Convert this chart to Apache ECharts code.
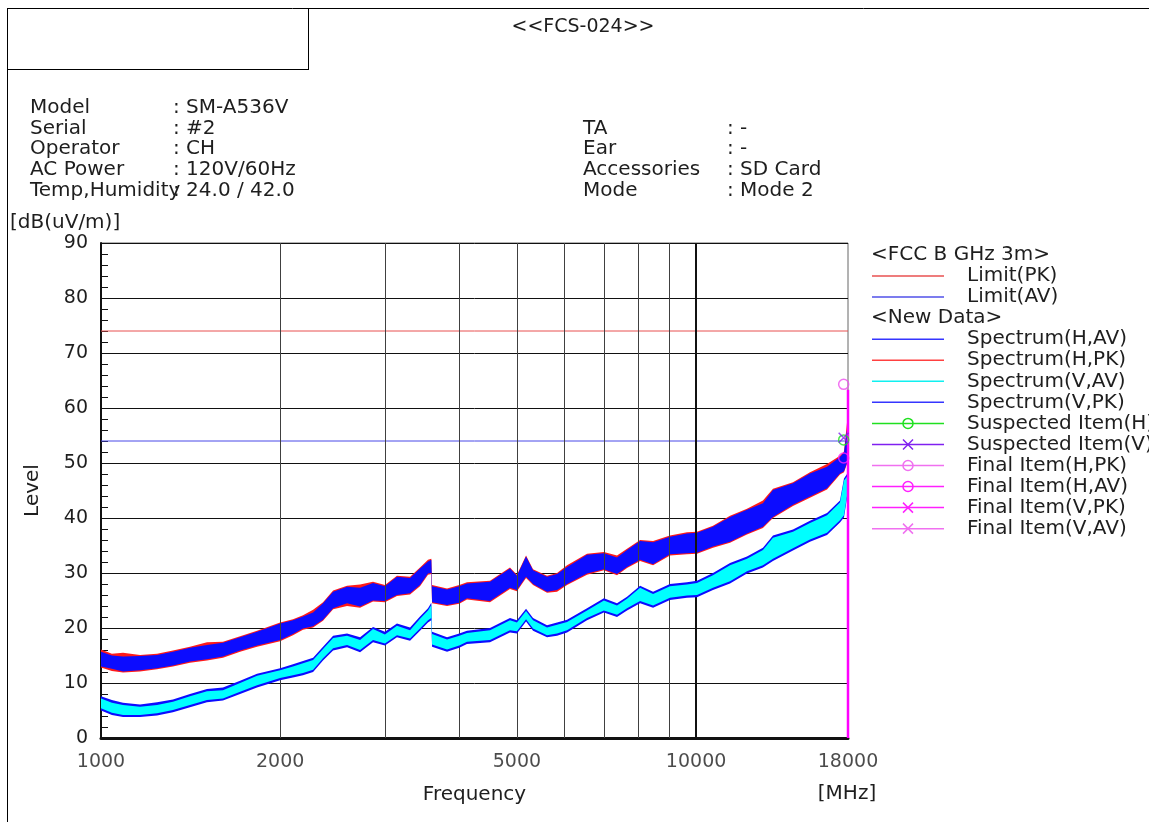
<!DOCTYPE html>
<html>
<head>
<meta charset="utf-8">
<script src="https://cdn.jsdelivr.net/npm/echarts@6/dist/echarts.min.js"></script>
<style>
html,body{margin:0;padding:0;background:#fff;}
#chart{width:1149px;height:822px;}
</style>
</head>
<body>
<div id="chart"></div>
<script>
// ---------------- DATA ----------------
const freqs = [1000,1043,1089,1163,1242,1321,1411,1507,1603,1713,
  1829,2000,2102,2185,2272,2361,2455,2591,2725,2865,
  3000,3143,3306,3436,3544,3590,3600,3815,4000,4121,
  4505,4867,5000,5179,5321,5617,5839,6070,6557,7000,
  7364,7655,8052,8467,9038,9654,10035,10676,11403,12177,
  12953,13465,14548,15538,16596,17450,17722,17930,18000];

// Spectrum(H,PK) red band (upper / lower envelope)
const hpkHi = [16.1,15.3,15.5,15.1,15.3,15.9,16.6,17.4,17.5,18.5,
  19.5,21.0,21.6,22.3,23.3,24.7,26.8,27.7,27.9,28.4,
  27.8,29.5,29.3,31.0,32.4,32.6,27.8,27.2,27.8,28.3,
  28.6,31.0,29.7,33.2,30.7,29.5,30.0,31.4,33.5,33.8,
  33.2,34.4,36.0,35.8,36.8,37.4,37.5,38.6,40.4,41.7,
  43.2,45.3,46.5,48.3,49.8,51.3,52.1,57.3,63.8];
const hpkLo = [12.8,12.2,11.9,12.1,12.5,13.0,13.7,14.1,14.6,15.7,
  16.6,17.6,18.7,19.7,20.1,21.3,23.4,24.0,23.7,24.8,
  24.7,25.8,26.1,27.6,29.7,29.8,24.5,24.0,24.4,25.2,
  24.7,27.1,26.7,29.1,27.8,26.4,26.6,27.8,29.7,30.5,
  29.6,30.9,32.2,31.4,33.2,33.4,33.5,34.6,35.5,37.0,
  38.2,40.0,42.2,43.7,45.2,47.9,48.3,49.8,51.8];
// Spectrum(V,PK) blue band
const vpkHi = [15.7,15.0,14.8,14.9,15.1,15.7,16.4,16.9,17.3,18.3,
  19.3,20.8,21.4,22.1,22.8,24.5,26.6,27.5,27.3,28.2,
  27.6,29.3,29.1,30.8,32.1,32.4,27.6,27.0,27.6,28.1,
  28.4,30.8,29.5,33.0,30.5,29.3,29.8,31.1,33.3,33.6,
  32.8,34.2,35.8,35.6,36.6,37.2,37.3,38.4,40.2,41.5,
  42.7,45.1,46.3,48.1,49.3,51.1,51.9,56.0,63.5];
const vpkLo = [13.0,12.6,12.1,12.3,12.7,13.2,13.9,14.3,14.8,15.9,
  16.8,17.8,18.9,19.9,20.3,21.5,23.6,24.5,23.9,25.0,
  24.9,26.0,26.3,27.8,29.9,30.0,24.7,24.2,24.6,25.4,
  24.9,27.3,26.9,29.3,28.0,26.6,26.9,28.0,29.9,30.7,
  29.8,31.1,32.4,31.6,33.4,33.6,33.7,34.8,35.7,37.2,
  38.4,40.2,42.4,43.9,45.4,48.1,48.5,50.0,52.0];
// Spectrum(H,AV) blue band
const havHi = [7.6,6.9,6.4,6.1,6.5,7.0,8.0,8.9,9.2,10.4,
  11.7,12.7,13.4,14.0,14.6,16.6,18.6,19.0,18.3,20.2,
  19.3,20.8,20.1,22.1,23.6,24.6,19.3,18.3,19.0,19.5,
  20.0,21.8,21.4,23.5,21.8,20.5,21.0,21.5,23.6,25.4,
  24.5,25.7,27.7,26.6,28.0,28.3,28.6,30.0,31.8,33.0,
  34.6,36.8,37.9,39.5,40.9,43.2,47.2,48.0,48.5];
const havLo = [5.0,4.2,3.8,3.8,4.1,4.7,5.6,6.5,6.8,8.0,
  9.2,10.5,11.0,11.4,12.0,14.1,15.9,16.5,15.6,17.4,
  16.8,18.3,17.7,19.5,21.0,21.4,16.6,15.7,16.4,17.1,
  17.4,19.2,19.0,21.2,19.5,18.3,18.6,19.2,21.4,22.8,
  22.0,23.2,24.5,23.7,25.1,25.5,25.6,26.9,28.1,29.9,
  31.0,32.2,34.1,35.7,36.9,39.2,40.1,43.6,45.6];
// Spectrum(V,AV) cyan band
const vavHi = [7.2,6.4,6.0,5.7,6.0,6.6,7.6,8.5,8.7,10.0,
  11.3,12.3,13.0,13.6,14.2,16.2,18.2,18.6,17.8,19.8,
  18.8,20.4,19.6,21.7,23.2,24.2,18.9,17.9,18.6,19.1,
  19.6,21.4,21.0,23.1,21.4,20.1,20.6,21.1,23.2,25.0,
  24.1,25.3,27.3,26.2,27.6,27.9,28.2,29.6,31.4,32.6,
  34.2,36.4,37.5,39.1,40.5,42.8,46.8,47.5,48.0];
const vavLo = [5.4,4.6,4.2,4.2,4.5,5.1,6.0,6.9,7.2,8.4,
  9.6,10.9,11.4,11.8,12.4,14.5,16.3,16.9,16.0,17.8,
  17.2,18.7,18.1,19.9,21.4,21.8,17.0,16.1,16.8,17.5,
  17.8,19.6,19.4,21.6,19.9,18.7,19.0,19.6,21.8,23.2,
  22.4,23.6,24.9,24.1,25.5,25.9,26.0,27.3,28.5,30.3,
  31.4,32.6,34.5,36.1,37.3,39.6,40.5,44.0,46.0];

// Limits
const limitFreq = [1000, 18000];
const limitPK = [74, 74];
const limitAV = [54, 54];

// Items near 18 GHz
const suspH = [[17700, 54.2]];
const suspV = [[17700, 54.6]];
const finalHPK = [[17700, 64.3]];
const finalHAV = [[17700, 50.9]];
const finalLineFreq = [18000, 18000];
const finalLineLevel = [0, 63.3];

// Axis ticks / grid
const xTickLabels = [1000, 2000, 5000, 10000, 18000];
const xGridMinor = [2000, 3000, 4000, 5000, 6000, 7000, 8000, 9000];
const xGridMajor = [10000];

// Texts
const title = '<<FCS-024>>';
const infoLeftLabels = ['Model', 'Serial', 'Operator', 'AC Power', 'Temp,Humidity'];
const infoLeftValues = [': SM-A536V', ': #2', ': CH', ': 120V/60Hz', ': 24.0 / 42.0'];
const infoRightLabels = ['TA', 'Ear', 'Accessories', 'Mode'];
const infoRightValues = [': -', ': -', ': SD Card', ': Mode 2'];
const legendRows = [
  {text: '<FCC B GHz 3m>', header: true},
  {text: 'Limit(PK)', color: '#e85050'},
  {text: 'Limit(AV)', color: '#5050e8'},
  {text: '<New Data>', header: true},
  {text: 'Spectrum(H,AV)', color: '#3535ff'},
  {text: 'Spectrum(H,PK)', color: '#ff4040'},
  {text: 'Spectrum(V,AV)', color: '#10f0f0'},
  {text: 'Spectrum(V,PK)', color: '#3535ff'},
  {text: 'Suspected Item(H)', color: '#20e020', marker: 'circle'},
  {text: 'Suspected Item(V)', color: '#8020f0', marker: 'cross'},
  {text: 'Final Item(H,PK)', color: '#f070f0', marker: 'circle'},
  {text: 'Final Item(H,AV)', color: '#ff20ff', marker: 'circle'},
  {text: 'Final Item(V,PK)', color: '#ff20ff', marker: 'cross'},
  {text: 'Final Item(V,AV)', color: '#f070f0', marker: 'cross'}
];

// ---------------- CHART ----------------
const FONT = 'DejaVu Sans';
const TXT = '#1e1e1e';
const chart = echarts.init(document.getElementById('chart'), null, {renderer: 'canvas'});

function band(name, hi, lo, color, z, stroke) {
  return {
    type: 'custom', name: name, z: z, silent: true, clip: true,
    coordinateSystem: 'cartesian2d',
    data: freqs.map((f, i) => [f, hi[i], lo[i]]),
    encode: {x: 0, y: [1, 2]},
    renderItem: function (params, api) {
      if (params.dataIndex !== 0) return null;
      const pts = [];
      for (let i = 0; i < freqs.length; i++) pts.push(api.coord([freqs[i], hi[i]]));
      for (let i = freqs.length - 1; i >= 0; i--) pts.push(api.coord([freqs[i], lo[i]]));
      return {type: 'polygon', shape: {points: pts},
        style: {fill: color, stroke: stroke ? color : null, lineWidth: stroke || 0}};
    }
  };
}

const crossPath = 'path://M0,0L10,10M10,0L0,10';
function marker(name, data, color, sym) {
  return {
    type: 'scatter', name: name, z: 8, data: data, clip: false,
    symbol: sym === 'cross' ? crossPath : 'circle', symbolSize: 10,
    itemStyle: {color: 'rgba(0,0,0,0)', borderColor: color, borderWidth: 1.5}
  };
}

const graphics = [];
// frame
graphics.push({type: 'line', shape: {x1: 7, y1: 8.5, x2: 1149, y2: 8.5}, style: {stroke: '#000', lineWidth: 1}});
graphics.push({type: 'line', shape: {x1: 7.5, y1: 8, x2: 7.5, y2: 822}, style: {stroke: '#000', lineWidth: 1}});
graphics.push({type: 'line', shape: {x1: 7, y1: 69.5, x2: 308, y2: 69.5}, style: {stroke: '#000', lineWidth: 1}});
graphics.push({type: 'line', shape: {x1: 308.5, y1: 8, x2: 308.5, y2: 70}, style: {stroke: '#000', lineWidth: 1}});
function txt(t, x, y, align, size) {
  return {type: 'text', style: {text: t, x: x, y: y, align: align || 'left', verticalAlign: 'middle',
    font: (size || 20) + 'px "' + FONT + '"', fill: TXT}};
}
graphics.push(txt(title, 583, 27, 'center', 19));
infoLeftLabels.forEach((t, i) => graphics.push(txt(t, 30, 107.5 + i * 20.8)));
infoLeftValues.forEach((t, i) => graphics.push(txt(t, 173, 107.5 + i * 20.8)));
infoRightLabels.forEach((t, i) => graphics.push(txt(t, 583, 128.3 + i * 20.8)));
infoRightValues.forEach((t, i) => graphics.push(txt(t, 727, 128.3 + i * 20.8)));
graphics.push(txt('[dB(uV/m)]', 10, 223));
graphics.push(txt('[MHz]', 847, 794, 'center'));
// legend
legendRows.forEach((r, i) => {
  const y = 255 + i * 21.05;
  if (r.header) { graphics.push(txt(r.text, 871, y)); return; }
  graphics.push({type: 'line', shape: {x1: 872, y1: y, x2: 944, y2: y}, style: {stroke: r.color, lineWidth: 1.5}});
  if (r.marker === 'circle') {
    graphics.push({type: 'circle', shape: {cx: 908, cy: y, r: 5}, style: {fill: 'none', stroke: r.color, lineWidth: 1.5}});
  } else if (r.marker === 'cross') {
    graphics.push({type: 'polyline', shape: {points: [[903, y - 5], [913, y + 5]]}, style: {stroke: r.color, lineWidth: 1.5, fill: 'none'}});
    graphics.push({type: 'polyline', shape: {points: [[913, y - 5], [903, y + 5]]}, style: {stroke: r.color, lineWidth: 1.5, fill: 'none'}});
  }
  graphics.push(txt(r.text, 967, y));
});

const option = {
  animation: false,
  backgroundColor: '#fff',
  textStyle: {fontFamily: FONT},
  grid: {left: 101, right: 301, top: 243, bottom: 84, show: true, borderColor: '#666', borderWidth: 1},
  xAxis: {
    type: 'log', logBase: 10, min: 1000, max: 18000,
    axisLine: {show: true, onZero: false, lineStyle: {color: '#111', width: 3}},
    axisTick: {show: false}, axisLabel: {show: false}, splitLine: {show: false}, minorTick: {show: false},
    name: 'Frequency', nameLocation: 'middle', nameGap: 47,
    nameTextStyle: {fontSize: 20, fontFamily: FONT, color: TXT}
  },
  yAxis: {
    type: 'value', min: 0, max: 90, interval: 10,
    axisLine: {show: true, lineStyle: {color: '#111', width: 2}},
    axisTick: {show: true, inside: true, length: 7, lineStyle: {color: '#111'}},
    minorTick: {show: true, splitNumber: 5, length: 7, lineStyle: {color: '#111'}},
    axisLabel: {fontSize: 19, color: TXT, margin: 13, fontFamily: FONT},
    splitLine: {show: true, lineStyle: {color: '#111', width: 1}},
    name: 'Level', nameLocation: 'middle', nameGap: 58,
    nameTextStyle: {fontSize: 20, fontFamily: FONT, color: TXT}
  },
  graphic: graphics,
  series: [
    {type: 'line', name: 'gridMinor', z: 1, data: [], silent: true,
      markLine: {silent: true, symbol: 'none', label: {show: false}, animation: false,
        lineStyle: {color: '#404040', width: 1, type: 'solid'},
        data: xGridMinor.map(f => ({xAxis: f}))}},
    {type: 'line', name: 'gridMajor', z: 1, data: [], silent: true,
      markLine: {silent: true, symbol: 'none', label: {show: false}, animation: false,
        lineStyle: {color: '#111', width: 2, type: 'solid'},
        data: xGridMajor.map(f => ({xAxis: f}))}},
    {type: 'line', name: 'Limit(PK)', z: 2, symbol: 'none',
      data: limitFreq.map((f, i) => [f, limitPK[i]]), lineStyle: {color: '#e85050', width: 1}},
    {type: 'line', name: 'Limit(AV)', z: 2, symbol: 'none',
      data: limitFreq.map((f, i) => [f, limitAV[i]]), lineStyle: {color: '#4848e8', width: 1}},
    band('Spectrum(H,PK)', hpkHi, hpkLo, '#ff1a1a', 3, 0),
    band('Spectrum(V,PK)', vpkHi, vpkLo, '#0c0cff', 4, 0),
    band('Spectrum(H,AV)', havHi, havLo, '#0c0cff', 5, 0),
    band('Spectrum(V,AV)', vavHi, vavLo, '#00ffff', 6, 0),
    {type: 'line', name: 'FinalLine', z: 7, symbol: 'none', clip: false,
      data: finalLineFreq.map((f, i) => [f, finalLineLevel[i]]), lineStyle: {color: '#ff00ff', width: 2.5}},
    marker('Suspected Item(H)', suspH, '#20e020', 'circle'),
    marker('Suspected Item(V)', suspV, '#8020f0', 'cross'),
    marker('Final Item(H,PK)', finalHPK, '#f050f0', 'circle'),
    marker('Final Item(H,AV)', finalHAV, '#ff20ff', 'circle'),
    {type: 'scatter', name: 'xTicks', z: 9, silent: true, clip: false,
      data: xTickLabels.map(f => [f, 0]), symbolSize: 1, itemStyle: {color: 'rgba(0,0,0,0)'},
      label: {show: true, position: 'bottom', distance: 14, formatter: p => String(p.value[0]),
        fontSize: 19, fontFamily: FONT, color: TXT}}
  ]
};
chart.setOption(option);
</script>
</body>
</html>
